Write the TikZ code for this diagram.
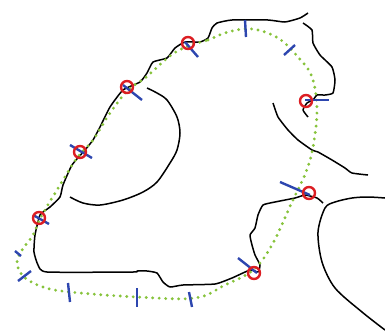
\documentclass[tikz,border=0pt]{standalone}
\begin{document}
\begin{tikzpicture}[x=1pt,y=-1pt,
  contour/.style={black,line width=1.5pt,line join=round},
  snake/.style={draw={rgb,255:red,135;green,195;blue,60},line width=3.2pt,line cap=round,dash pattern=on 0pt off 6.5pt},
  tick/.style={draw={rgb,255:red,45;green,70;blue,175},line width=2.4pt},
  ring/.style={draw={rgb,255:red,220;green,30;blue,35},line width=2.4pt}]
\useasboundingbox (0,0) rectangle (385,333);
% black contours
\draw[contour] plot[smooth,tension=0.3] coordinates {(308,13) (300,18) (285,22) (268,20) (232,20) (217,23) (212,28) (208,38) (200,42) (185,42) (175,48) (167,58) (153,62) (147,73) (140,82) (123,90) (110,107) (100,127) (93,140) (85,150) (72,165) (63,185) (60,197) (50,207) (40,215) (35,235) (34,252) (38,265) (47,272) (133,272) (137,271) (147,271) (157,273) (163,282) (170,287) (183,285) (215,284) (232,278) (250,270) (258,272) (260,265) (255,255) (252,245) (250,235) (255,228) (258,215) (263,205) (275,202) (295,198) (305,195) (317,198) (323,203)};
\draw[contour] plot[smooth,tension=0.3] coordinates {(303,23) (312,30) (313,43) (320,55) (332,67) (335,80) (333,93) (325,95) (317,95) (313,100) (307,103) (303,110) (308,117)};
\draw[contour] plot[smooth,tension=0.5] coordinates {(147,88) (157,93) (167,100) (177,117) (180,133) (177,150) (170,163) (157,182) (143,192) (123,200) (100,205) (83,203) (70,197)};
\draw[contour] plot[smooth,tension=0.3] coordinates {(273,103) (278,117) (288,130) (298,140) (312,150) (318,152) (332,160) (345,168) (352,173) (368,175)};
\draw[contour] plot[smooth,tension=0.5] coordinates {(385,198) (368,197) (352,198) (335,202) (325,208) (318,232) (322,262) (335,288) (362,312) (385,330)};
% green snake
\draw[snake] plot[smooth cycle,tension=0.6] coordinates {(188,46) (208,40) (228,32) (252,29) (278,38) (298,57) (312,77) (317,110) (313,147) (306,172) (292,202) (272,245) (253,270) (225,285) (195,298) (137,297) (70,292) (43,287) (24,277) (17,263) (22,250) (33,235) (41,217) (60,185) (77,158) (93,140) (110,113) (128,90) (145,78) (170,56)};
% blue ticks
\draw[tick] (185,42) -- (198,57);
\draw[tick] (123,85) -- (142,100);
\draw[tick] (70,145) -- (92,158);
\draw[tick] (33,215) -- (49,224);
\draw[tick] (15,251) -- (21,256);
\draw[tick] (18,281) -- (31,271);
\draw[tick] (68,283) -- (70,302);
\draw[tick] (137,288) -- (137,307);
\draw[tick] (189,292) -- (192,307);
\draw[tick] (238,258) -- (257,273);
\draw[tick] (280,182) -- (310,195);
\draw[tick] (305,100) -- (329,100);
\draw[tick] (245,20) -- (246,37);
\draw[tick] (284,55) -- (295,45);
% red rings
\foreach \p in {(188,43),(127,87),(80,152),(39,218),(254,273),(309,193),(306,101)}
  \draw[ring] \p circle (6);
\end{tikzpicture}
\end{document}
